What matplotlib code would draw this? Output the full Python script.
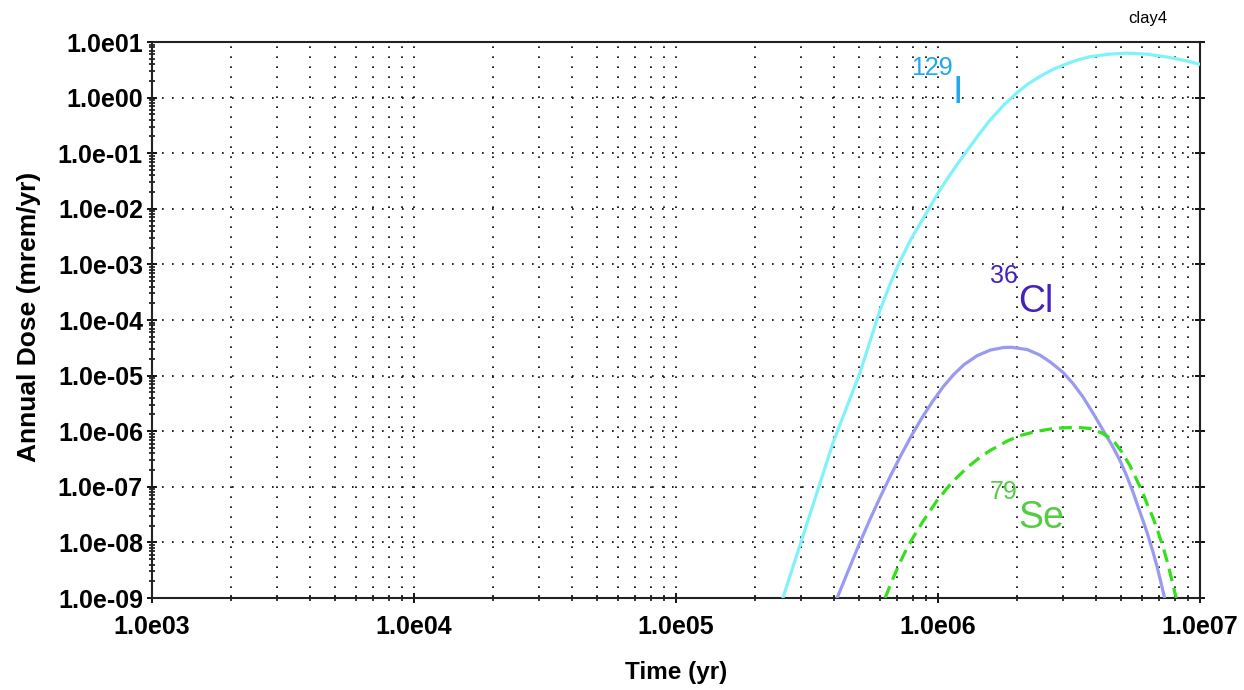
import numpy as np
import matplotlib
matplotlib.use('Agg')
from matplotlib import pyplot as plt
from matplotlib.ticker import LogLocator, FuncFormatter, NullFormatter

plt.rcParams['font.family'] = ['Liberation Sans', 'DejaVu Sans']

# values, kept as log10 (time in yr, dose in mrem/yr)
lt_i129 = [5.408, 5.50, 5.60, 5.702, 5.779, 5.82, 5.855, 5.90, 5.958, 6.00,
           6.034, 6.075, 6.115, 6.155, 6.198, 6.25, 6.302, 6.345, 6.389, 6.44,
           6.492, 6.535, 6.58, 6.65, 6.72, 6.80, 6.874, 6.94, 7.0]
ld_i129 = [-9.0, -7.66, -6.20, -4.95, -3.82, -3.32, -2.94, -2.52, -2.06, -1.72,
           -1.47, -1.19, -0.93, -0.67, -0.41, -0.14, 0.09, 0.25, 0.38, 0.51,
           0.61, 0.68, 0.735, 0.78, 0.80, 0.78, 0.73, 0.67, 0.60]

lt_cl36 = [5.615, 5.66, 5.702, 5.74, 5.779, 5.82, 5.86, 5.90, 5.94, 5.98,
           6.02, 6.06, 6.10, 6.15, 6.20, 6.25, 6.28, 6.34, 6.389, 6.43,
           6.477, 6.515, 6.553, 6.59, 6.63, 6.665, 6.695, 6.72, 6.744, 6.77,
           6.798, 6.82, 6.836, 6.85, 6.865]
ld_cl36 = [-9.0, -8.48, -8.00, -7.59, -7.19, -6.79, -6.42, -6.07, -5.75, -5.46,
           -5.20, -4.98, -4.80, -4.64, -4.54, -4.495, -4.49, -4.53, -4.63, -4.76,
           -4.94, -5.14, -5.38, -5.66, -5.98, -6.26, -6.53, -6.80, -7.09, -7.44,
           -7.82, -8.16, -8.43, -8.70, -9.0]

lt_se79 = [5.798, 5.83, 5.855, 5.88, 5.905, 5.943, 5.996, 6.053, 6.115, 6.16,
           6.198, 6.267, 6.32, 6.378, 6.43, 6.477, 6.53, 6.58, 6.625, 6.668,
           6.70, 6.733, 6.76, 6.782, 6.80, 6.821, 6.84, 6.859, 6.873, 6.885,
           6.896, 6.905, 6.91]
ld_se79 = [-9.0, -8.63, -8.36, -8.12, -7.91, -7.62, -7.25, -6.92, -6.64, -6.47,
           -6.35, -6.17, -6.07, -6.00, -5.96, -5.94, -5.93, -5.95, -6.03, -6.16,
           -6.36, -6.62, -6.89, -7.11, -7.33, -7.56, -7.81, -8.08, -8.31, -8.53,
           -8.74, -8.92, -9.0]

series = [
    (lt_i129, ld_i129, '#80f2fa', '-'),
    (lt_cl36, ld_cl36, '#9a9af0', '-'),
    (lt_se79, ld_se79, '#33e019', (0, (4, 2.2))),
]

# isotope labels: (mass number, symbol, x, baseline main, baseline superscript, colour)
labels = [
    ('129', 'I', 1.14e6, 0.80, 2.55, '#1ea8f0'),
    ('36', 'Cl', 2.02e6, 1.39e-4, 4.6e-4, '#4422bb'),
    ('79', 'Se', 2.02e6, 1.82e-8, 6.0e-8, '#55cc44'),
]

fig = plt.figure(figsize=(12.44, 6.9), dpi=100)
ax = fig.add_axes([0.1222, 0.1333, 0.8424, 0.8058])

for lt, ld, c, ls in series:
    ax.plot(np.power(10.0, lt), np.power(10.0, ld), color=c, linestyle=ls,
            linewidth=2.3, zorder=3)

ax.set_xscale('log')
ax.set_yscale('log')
ax.set_xlim(1e3, 1e7)
ax.set_ylim(1e-9, 1e1)

fmt = FuncFormatter(lambda v, p: ('%.1e' % v).replace('e+', 'e'))
ax.xaxis.set_major_locator(LogLocator(base=10, numticks=20))
ax.yaxis.set_major_locator(LogLocator(base=10, numticks=20))
ax.xaxis.set_minor_locator(LogLocator(base=10, subs=np.arange(2, 10), numticks=20))
ax.yaxis.set_minor_locator(LogLocator(base=10, subs=np.arange(2, 10), numticks=20))
ax.xaxis.set_major_formatter(fmt)
ax.yaxis.set_major_formatter(fmt)
ax.xaxis.set_minor_formatter(NullFormatter())
ax.yaxis.set_minor_formatter(NullFormatter())

ax.grid(True, which='major', axis='both', color='black', linewidth=1.2,
        linestyle=(0, (1, 5)))
ax.grid(True, which='minor', axis='x', color='black', linewidth=1.2,
        linestyle=(0, (1, 5)))

ax.tick_params(which='major', direction='inout', length=7, width=1.3,
               labelsize=18, pad=3, right=True, top=False)
ax.tick_params(which='minor', direction='inout', length=4, width=1.1,
               right=False, top=False)
ax.tick_params(axis='x', which='major', pad=9)
for lab in ax.get_xticklabels() + ax.get_yticklabels():
    lab.set_fontweight('bold')

for sp in ax.spines.values():
    sp.set_linewidth(1.5)
    sp.set_color('#222222')

ax.set_xlabel('Time (yr)', fontsize=17.5, fontweight='bold')
ax.set_ylabel('Annual Dose (mrem/yr)', fontsize=19, fontweight='bold')
ax.xaxis.set_label_coords(0.5, -0.113)
ax.yaxis.set_label_coords(-0.106, 0.505)

for num, sym, x, yb, ys, c in labels:
    ax.text(x, yb, sym, color=c, fontsize=27, ha='left', va='baseline', zorder=4)
    ax.text(x, ys, num, color=c, fontsize=18, ha='right', va='baseline', zorder=4)

fig.text(0.923, 0.967, 'clay4', fontsize=12, ha='center', va='baseline')

fig.savefig('out.png', dpi=100)
